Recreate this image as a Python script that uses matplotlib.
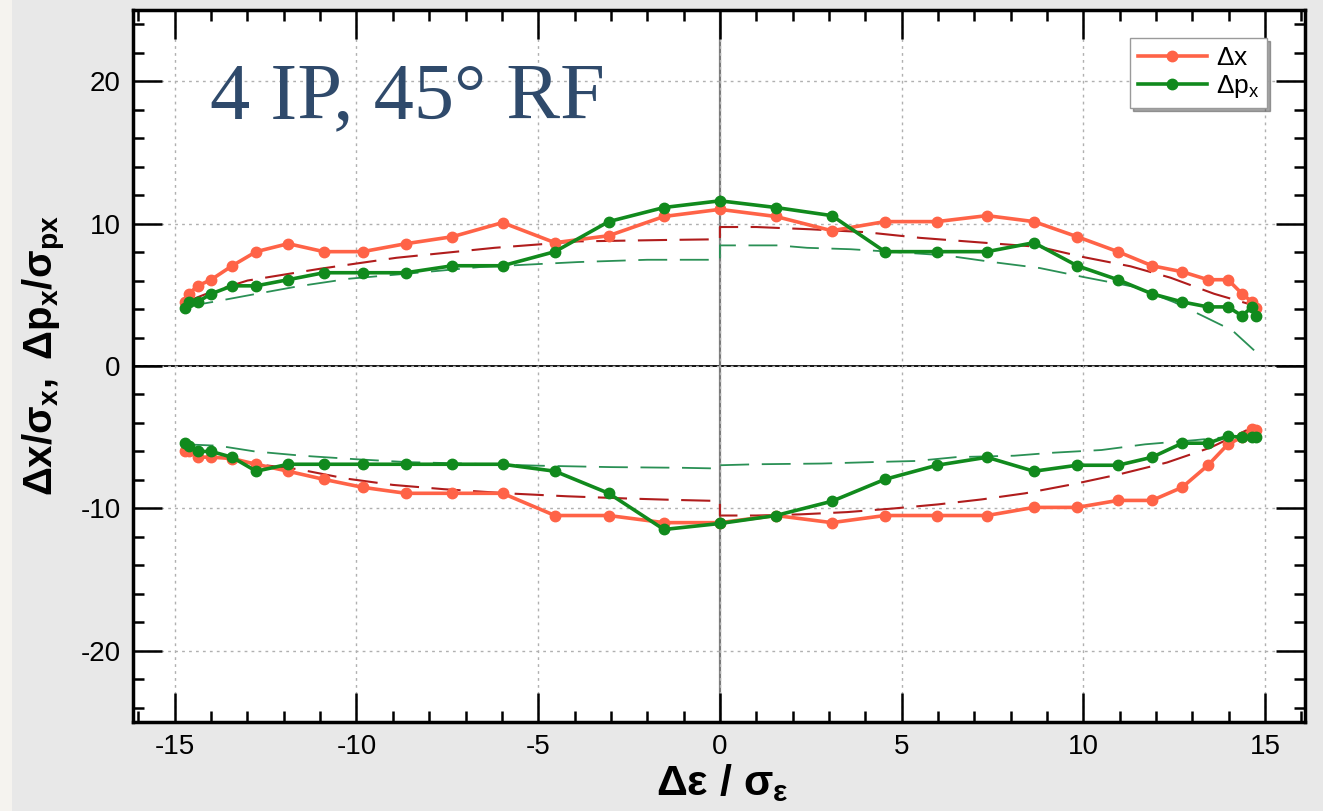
import matplotlib

matplotlib.use("Agg")
import matplotlib.pyplot as plt
from matplotlib.patches import Rectangle
from matplotlib.ticker import MultipleLocator

# particle positions along the energy offset (in sigma_eps)
eps = [-14.73, -14.61, -14.37, -14.00, -13.42, -12.76, -11.88, -10.90, -9.83, -8.64,
       -7.36, -5.98, -4.54, -3.06, -1.54, 0.00, 1.54, 3.08, 4.54, 5.97,
       7.35, 8.64, 9.83, 10.95, 11.89, 12.72, 13.43, 13.98, 14.37, 14.64, 14.75]

# simulated aperture, upper branch
dx_up = [4.50, 5.07, 5.63, 6.06, 7.04, 8.03, 8.59, 8.03, 8.03, 8.59,
         9.08, 10.07, 8.66, 9.15, 10.50, 11.00, 10.50, 9.50, 10.14, 10.14,
         10.56, 10.14, 9.08, 8.03, 7.04, 6.62, 6.06, 6.06, 5.07, 4.50, 4.08]
dpx_up = [4.08, 4.50, 4.50, 5.07, 5.63, 5.63, 6.06, 6.55, 6.55, 6.55,
          7.04, 7.04, 8.03, 10.14, 11.13, 11.60, 11.13, 10.56, 8.03, 8.03,
          8.03, 8.66, 7.04, 6.06, 5.07, 4.50, 4.15, 4.15, 3.52, 4.15, 3.52]

# simulated aperture, lower branch
dx_lo = [-6.00, -6.00, -6.40, -6.40, -6.50, -6.90, -7.39, -7.96, -8.52, -8.94,
         -8.94, -8.94, -10.50, -10.50, -11.00, -11.00, -10.50, -11.00, -10.50, -10.50,
         -10.50, -9.93, -9.93, -9.44, -9.44, -8.52, -6.97, -5.49, -5.00, -4.40, -4.50]
dpx_lo = [-5.42, -5.60, -6.00, -6.00, -6.41, -7.39, -6.90, -6.90, -6.90, -6.90,
          -6.90, -6.90, -7.39, -8.94, -11.48, -11.06, -10.50, -9.50, -7.96, -6.97,
          -6.41, -7.39, -6.97, -6.97, -6.41, -5.42, -5.42, -4.93, -5.00, -5.00, -5.00]

# analytic estimates (dashed)
th_dx_up_x = [-14.7, -14.0, -13.0, -11.0, -8.9, -6.2, -3.9, -1.5, 0.0,
              0.0, 1.0, 2.5, 4.0, 5.5, 7.3, 8.8, 10.0, 11.3, 12.4, 13.6, 14.7]
th_dx_up_y = [4.5, 5.2, 6.0, 6.83, 7.6, 8.3, 8.75, 8.85, 8.9,
              9.76, 9.76, 9.6, 9.4, 9.0, 8.65, 8.36, 7.65, 7.0, 6.2, 5.07, 4.25]
th_dpx_up_x = [-14.73, -13.95, -13.0, -11.6, -10.2, -8.4, -6.6, -3.9, -2.0, 0.0,
               0.0, 1.6, 2.4, 3.6, 4.85, 6.2, 7.5, 8.8, 10.0, 11.4, 12.5, 13.3, 14.1, 14.4, 14.7]
th_dpx_up_y = [4.15, 4.5, 4.95, 5.6, 6.13, 6.53, 6.95, 7.3, 7.46, 7.46,
               8.47, 8.47, 8.3, 8.2, 8.0, 7.77, 7.3, 6.88, 6.25, 5.56, 4.48, 3.5, 2.5, 1.8, 1.1]
th_dx_lo_x = [-14.7, -13.8, -12.9, -11.6, -10.3, -9.0, -7.6, -5.8, -4.2, -2.6, -1.3, 0.0,
              0.0, 1.0, 2.2, 3.5, 4.8, 6.0, 7.2, 8.4, 9.7, 11.0, 12.3, 13.5, 14.5]
th_dx_lo_y = [-5.6, -6.3, -6.85, -7.25, -7.9, -8.35, -8.65, -8.95, -9.15, -9.3, -9.4, -9.48,
              -10.5, -10.5, -10.42, -10.26, -10.0, -9.72, -9.37, -8.94, -8.31, -7.6, -6.78, -5.73, -4.5]
th_dpx_lo_x = [-14.73, -13.8, -12.8, -11.5, -10.0, -8.6, -7.0, -5.0, -3.0, -1.0, 0.0,
               0.0, 1.0, 2.8, 4.3, 5.4, 6.5, 8.1, 9.1, 10.5, 11.7, 13.1, 14.3, 14.7]
th_dpx_lo_y = [-5.5, -5.6, -6.0, -6.3, -6.55, -6.75, -6.85, -7.0, -7.1, -7.15, -7.2,
               -6.97, -6.9, -6.85, -6.74, -6.67, -6.4, -6.3, -6.1, -5.9, -5.5, -5.2, -4.9, -4.7]

ORANGE = "#ff6347"
GREEN = "#118a1d"
DARKRED = "#b01c1c"
SEAGREEN = "#2a9055"

plt.rcParams["font.family"] = ["Liberation Sans", "DejaVu Sans"]
plt.rcParams["axes.unicode_minus"] = False
plt.rcParams["mathtext.fontset"] = "custom"
plt.rcParams["mathtext.rm"] = "Liberation Sans"
plt.rcParams["mathtext.it"] = "Liberation Sans"
plt.rcParams["mathtext.bf"] = "Liberation Sans:bold"

fig = plt.figure(figsize=(13.23, 8.11), dpi=100, facecolor="#e8e8e8")
fig.patches.append(Rectangle((0, 0), 12 / 1323, 1, transform=fig.transFigure,
                             facecolor="#f5f3ef", edgecolor="none", zorder=0))
ax = fig.add_axes([133 / 1323, 1 - 722 / 811, 1172 / 1323, 712 / 811])

ax.axhline(0, color="black", lw=1.3, zorder=1)
ax.axvline(0, color="#7a7a7a", lw=1.6, zorder=1)

ax.plot(th_dx_up_x, th_dx_up_y, color=DARKRED, lw=1.5, dashes=(14, 6), zorder=2)
ax.plot(th_dx_lo_x, th_dx_lo_y, color=DARKRED, lw=1.5, dashes=(14, 6), zorder=2)
ax.plot(th_dpx_up_x, th_dpx_up_y, color=SEAGREEN, lw=1.3, dashes=(16, 7), zorder=2)
ax.plot(th_dpx_lo_x, th_dpx_lo_y, color=SEAGREEN, lw=1.3, dashes=(16, 7), zorder=2)

ax.plot(eps, dx_up, color=ORANGE, lw=2.6, marker="o", ms=7.5, zorder=3, label=r"$\Delta$x")
ax.plot(eps, dx_lo, color=ORANGE, lw=2.6, marker="o", ms=7.5, zorder=3)
ax.plot(eps, dpx_up, color=GREEN, lw=2.6, marker="o", ms=7.5, zorder=4, label=r"$\Delta$p$_\mathregular{x}$")
ax.plot(eps, dpx_lo, color=GREEN, lw=2.6, marker="o", ms=7.5, zorder=4)

ax.set_xlim(-16.15, 16.1)
ax.set_ylim(-25, 25)
ax.xaxis.set_major_locator(MultipleLocator(5))
ax.xaxis.set_minor_locator(MultipleLocator(1))
ax.yaxis.set_major_locator(MultipleLocator(10))
ax.yaxis.set_minor_locator(MultipleLocator(2))
ax.grid(True, which="major", color="#b0b0b0", ls=(0, (2, 3)), lw=1.0, zorder=0)
ax.tick_params(which="both", direction="in", top=True, right=True, width=1.8)
ax.tick_params(which="major", length=21, labelsize=20, pad=9)
ax.tick_params(which="minor", length=8)
for sp in ax.spines.values():
    sp.set_linewidth(2.5)

ax.text(0.066, 0.848, "4 IP, 45° RF", transform=ax.transAxes, fontsize=58,
        family=["Liberation Serif", "DejaVu Serif"], color="#2f4a6b", va="baseline", ha="left")

leg = ax.legend(loc="upper right", bbox_to_anchor=(0.968, 0.96), fontsize=19,
                handlelength=2.6, handletextpad=0.35, borderpad=0.3, labelspacing=0.1,
                frameon=True, fancybox=False, shadow=True, borderaxespad=0)
leg.get_frame().set_edgecolor("#9a9a9a")
leg.get_frame().set_linewidth(1.0)

fig.text(45 / 1323, 1 - 356 / 811,
         r"$\mathbf{\Delta x/\sigma_x,\ \Delta p_x/\sigma_{px}}$",
         rotation=90, ha="center", va="center", fontsize=29)
fig.text(722 / 1323, 1 - 783 / 811, r"$\mathbf{\Delta\varepsilon\ /\ \sigma_\varepsilon}$",
         ha="center", va="center", fontsize=31)

fig.savefig("out.png", dpi=100, facecolor=fig.get_facecolor())
